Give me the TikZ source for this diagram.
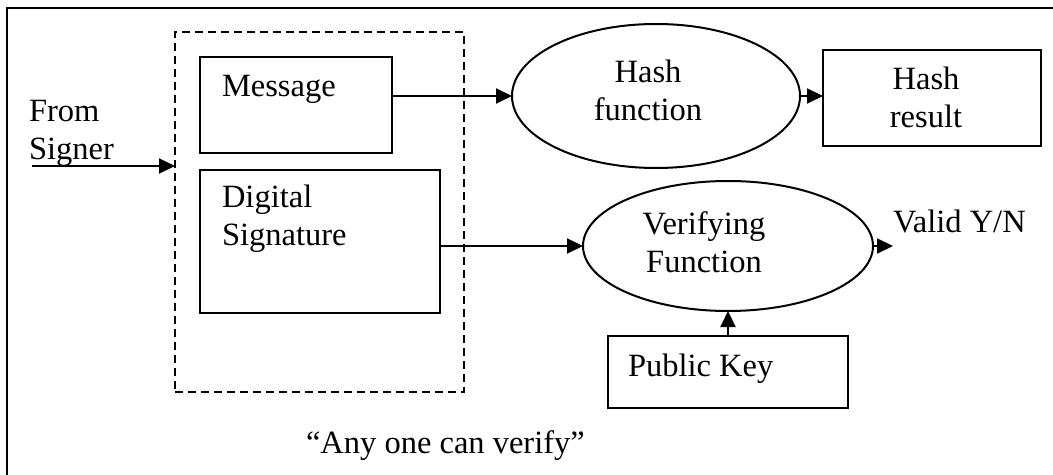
\documentclass[tikz,border=0pt]{standalone}
\usepackage{fontspec}
\setmainfont{Liberation Serif}
\usetikzlibrary{arrows.meta,fit,shapes.geometric}
% two stacked lines whose baseline is the first line
\newcommand\linesC[2]{\begin{tabular}[t]{@{}c@{}}#1\\#2\end{tabular}}
\newcommand\linesL[2]{\begin{tabular}[t]{@{}l@{}}#1\\#2\end{tabular}}
\begin{document}
\begin{tikzpicture}[x=0.5pt,y=-0.5pt,
  every node/.style={inner sep=0pt, outer sep=0pt,
    font=\fontsize{16.25}{19}\selectfont},
  box/.style={draw, line width=1pt, rectangle},
  group/.style={draw, line width=1pt, rectangle, dash pattern=on 4pt off 2.5pt},
  oval/.style={draw, line width=1pt, ellipse},
  arr/.style={line width=1pt, -{Triangle[length=8pt,width=7.5pt]}},
  lbl/.style={anchor=base west},
  clbl/.style={anchor=base},
]
\useasboundingbox (0,0) rectangle (1053,475);
\clip (0,0) rectangle (1053,475);

% outer frame (runs past the right and bottom edges)
\draw[line width=1.2pt] (7,600) -- (7,8) -- (1200,8);

% signed document: message and signature
\node[group, fit={(175,32) (464,392)}] (doc) {};
\node[box, fit={(200,57) (392,153)}] (msg) {};
\node[lbl] (msgtxt) at (222,97) {Message};
\node[box, fit={(200,170) (440,313)}] (ds) {};
\node[lbl] (dstxt) at (222,208) {\linesL{Digital}{Signature}};

% incoming document
\node[lbl] (from) at (29,122) {\linesL{From}{Signer}};
\coordinate (src) at (32,166);
\draw[arr] (src) -- (src -| doc.west);

% hashing branch
\node[oval, minimum width=144pt, minimum height=72pt] (hashfn) at (656,96) {};
\node[clbl] (hashfntxt) at (648,83) {\linesC{Hash}{function}};
\node[box, fit={(823,50) (1041,146)}] (hashres) {};
\node[clbl] (hashrestxt) at (926,90) {\linesC{Hash}{result}};
\draw[arr] (msg.east |- hashfn.west) -- (hashfn.west);
\draw[arr] (hashfn.east) -- (hashfn.east -| hashres.west);

% verification branch
\node[oval, minimum width=145pt, minimum height=65pt] (verify) at (728,246) {};
\node[clbl] (verifytxt) at (704,235) {\linesC{Verifying}{Function}};
\node[lbl] (valid) at (893,233) {Valid Y/N};
\node[box, fit={(608,336) (848,408)}] (pubkey) {};
\node[lbl] (pubkeytxt) at (628,376) {Public Key};
\draw[arr] (ds.east |- verify.west) -- (verify.west);
\draw[arr] (verify.east) -- (verify.east -| valid.west);
\draw[arr] (pubkey.north) -- (verify.south);

% caption
\node[lbl] (caption) at (306,453) {“Any one can verify”};
\end{tikzpicture}
\end{document}
